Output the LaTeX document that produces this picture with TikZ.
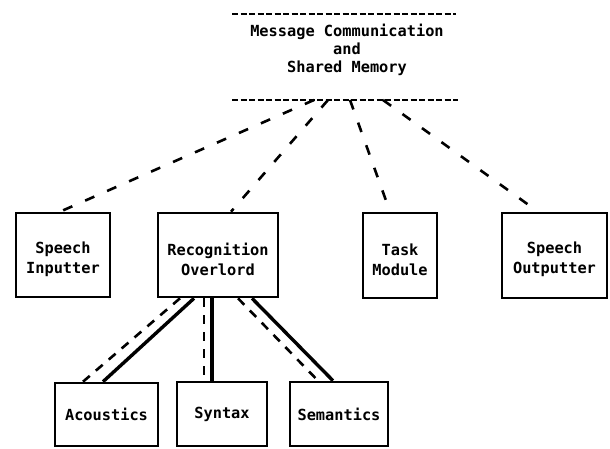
\documentclass[tikz,border=0pt]{standalone}
\usepackage{fontspec}
\setmonofont{DejaVu Sans Mono}
\begin{document}
\begin{tikzpicture}[x=1pt,y=-1pt,
  txt/.style={align=center,font=\ttfamily\bfseries\fontsize{15.3}{20}\selectfont},
  box/.style={draw,line width=2.6pt,minimum width=#1,inner sep=0pt},
  lbl/.style={txt,yshift=-4pt},
  hdash/.style={line width=2pt,dash pattern=on 6pt off 2.5pt},
  updash/.style={line width=2.6pt,dash pattern=on 10pt off 14pt},
  lowdash/.style={line width=2.6pt,dash pattern=on 9pt off 8pt},
  lowsolid/.style={line width=3.4pt}]
\useasboundingbox (0,0) rectangle (610,448);
% header
\coordinate (t1) at (232,14);
\coordinate (t2) at (456,14);
\coordinate (b1) at (232,100);
\coordinate (b2) at (458,100);
\draw[hdash] (t1) -- (t2);
\draw[hdash] (b1) -- (b2);
\node[txt,font=\ttfamily\bfseries\fontsize{15.3}{18}\selectfont] (hdr) at (347,50)
  {Message Communication\\and\\Shared Memory};
% upper boxes
\node[box=94pt,minimum height=84pt,label={[lbl]center:Speech\\Inputter}] (si) at (63,255) {};
\node[box=120pt,minimum height=84pt,label={[lbl]center:Recognition\\Overlord}] (ro) at (218,255) {};
\node[box=74pt,minimum height=85pt,label={[lbl]center:Task\\Module}] (tm) at (400,255.5) {};
\node[box=105pt,minimum height=85pt,label={[lbl]center:Speech\\Outputter}] (so) at (554.5,255.5) {};
% lower boxes
\node[box=103pt,minimum height=63pt,txt] (ac) at (106.5,414.5) {Acoustics};
\node[box=90pt,minimum height=64pt,txt] (sy) at (222,414) {Syntax};
\node[box=98pt,minimum height=64pt,txt] (se) at (339,414) {Semantics};
% header connectors
\coordinate (h1) at (314,100);
\coordinate (h2) at (328,100);
\coordinate (h3) at (350,100);
\coordinate (h4) at (383,100);
\draw[updash] (h1) -- ([xshift=-3pt]si.north);
\draw[updash] (h2) -- ([xshift=13pt]ro.north);
\draw[updash] (h3) -- ([xshift=-10pt]tm.north);
\draw[updash] (h4) -- ([xshift=-16.5pt]so.north);
% lower connectors
\draw[lowdash] ([xshift=-38pt]ro.south) -- ([xshift=-23.5pt]ac.north);
\draw[lowsolid] ([xshift=-24pt]ro.south) -- ([xshift=-3.5pt]ac.north);
\draw[lowdash] ([xshift=-14pt]ro.south) -- ([xshift=-18pt]sy.north);
\draw[lowsolid] ([xshift=-6pt]ro.south) -- ([xshift=-10pt]sy.north);
\draw[lowdash] ([xshift=20pt]ro.south) -- ([xshift=-21pt]se.north);
\draw[lowsolid] ([xshift=34pt]ro.south) -- ([xshift=-6pt]se.north);
\end{tikzpicture}
\end{document}
